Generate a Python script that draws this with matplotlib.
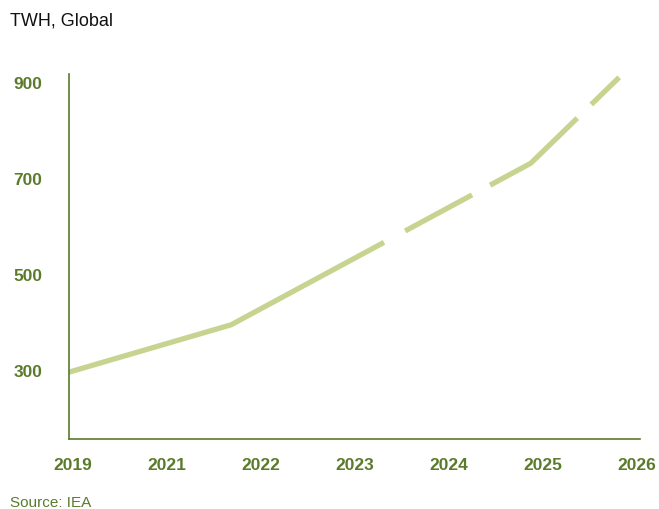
import matplotlib
matplotlib.use("Agg")
import matplotlib.pyplot as plt

# ---- data ----
tick_labels = ["2019", "2021", "2022", "2023", "2024", "2025", "2026"]
y_ticks = [300, 500, 700, 900]
# positions along the categorical axis (label index units) and values (TWh)
x_index = [-0.05, 1.68, 4.87, 5.81]
twh = [295, 394, 731, 910]

GREEN = "#5b7b2c"
LINE = "#c6d490"

plt.rcParams["font.family"] = ["Liberation Sans", "DejaVu Sans"]
plt.rcParams["lines.scale_dashes"] = False

fig = plt.figure(figsize=(6.59, 5.10), dpi=100)
ax = fig.add_axes([0.104, 0.137, 0.867, 0.716])

line, = ax.plot(x_index, twh, color=LINE, lw=3.8, solid_capstyle="butt",
                dash_capstyle="butt", zorder=1)
line.set_dashes([247, 17.3, 54.7, 14.8, 79.9, 14.1, 200, 10])

ax.set_xlim(-0.05, 6.03)
ax.set_ylim(155.6, 917)
ax.set_xticks(range(len(tick_labels)))
ax.set_xticklabels(tick_labels)
ax.set_yticks(y_ticks)
ax.set_yticklabels([str(v) for v in y_ticks])

for s in ["top", "right"]:
    ax.spines[s].set_visible(False)
for s in ["left", "bottom"]:
    ax.spines[s].set_color(GREEN)
    ax.spines[s].set_linewidth(1.2)
    ax.spines[s].set_zorder(3)

ax.tick_params(axis="both", length=0, colors=GREEN, labelsize=12.5)
ax.tick_params(axis="x", pad=13)
ax.tick_params(axis="y", pad=19)
for lab in ax.get_xticklabels() + ax.get_yticklabels():
    lab.set_fontweight("bold")

fig.text(10 / 659, 1 - 26 / 510, "TWH, Global", fontsize=13, color="#111111",
         ha="left", va="baseline")
fig.text(10 / 659, 1 - 507 / 510, "Source: IEA", fontsize=11, color=GREEN,
         ha="left", va="baseline")

fig.savefig("out.png", dpi=100)
